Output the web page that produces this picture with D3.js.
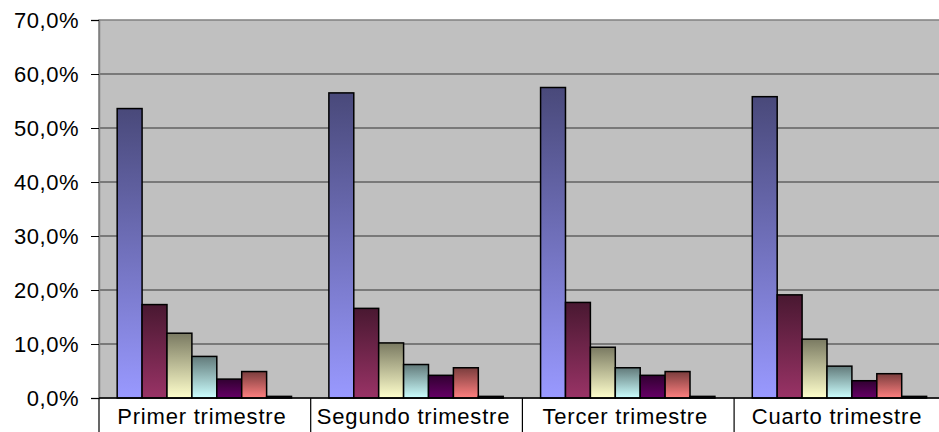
<!DOCTYPE html>
<html>
<head>
<meta charset="utf-8">
<script src="https://cdn.jsdelivr.net/npm/d3@7"></script>
<style>
  body { margin: 0; background: #fff; }
  svg text { font-family: "Liberation Sans", Arial, sans-serif; fill: #000; }
</style>
</head>
<body>
<div id="chart"></div>
<script>
// trimestres
var categories = ["Primer trimestre", "Segundo trimestre", "Tercer trimestre", "Cuarto trimestre"];

// one array per series, values in %
var serie1 = [53.6, 56.5, 57.5, 55.8];
var serie2 = [17.3, 16.6, 17.7, 19.1];
var serie3 = [12.0, 10.2, 9.4, 10.9];
var serie4 = [7.7, 6.2, 5.6, 5.9];
var serie5 = [3.5, 4.2, 4.2, 3.2];
var serie6 = [4.9, 5.6, 4.9, 4.5];
var serie7 = [0.3, 0.3, 0.3, 0.3];

var yTicks = [0, 10, 20, 30, 40, 50, 60, 70];

var series = [serie1, serie2, serie3, serie4, serie5, serie6, serie7];
var colors = ["#9999ff", "#993366", "#ffffcc", "#ccffff", "#660066", "#ff8080", "#0066cc"];

var W = 939, H = 432;
var mLeft = 99, mTop = 20, mBottom = 398;
var catW = 211.7;

var svg = d3.select("#chart").append("svg")
    .attr("width", W)
    .attr("height", H);

var x = d3.scaleBand()
    .domain(categories)
    .range([mLeft, mLeft + catW * categories.length])
    .padding(0);

var y = d3.scaleLinear().domain([0, 70]).range([mBottom, mTop]);

// 7 bars + 150% gap inside each category
var inner = d3.scaleBand()
    .domain(d3.range(series.length))
    .range([0, x.bandwidth()])
    .paddingInner(0)
    .paddingOuter(0.75);

// gradients, dark top -> colour bottom
var defs = svg.append("defs");
colors.forEach(function (c, i) {
    var base = d3.rgb(c);
    var dark = d3.rgb(base.r * 0.48, base.g * 0.48, base.b * 0.48);
    var g = defs.append("linearGradient")
        .attr("id", "grad" + i)
        .attr("x1", 0).attr("y1", 0).attr("x2", 0).attr("y2", 1);
    g.append("stop").attr("offset", "0%").attr("stop-color", dark.formatHex());
    g.append("stop").attr("offset", "100%").attr("stop-color", c);
});

// plot area
svg.append("rect")
    .attr("x", mLeft)
    .attr("y", mTop)
    .attr("width", catW * categories.length)
    .attr("height", mBottom - mTop)
    .attr("fill", "#c0c0c0")
    .attr("stroke", "#808080")
    .attr("stroke-width", 1.5);

// gridlines
svg.selectAll(".grid")
    .data(yTicks.filter(function (d) { return d > 0 && d < 70; }))
    .enter().append("line")
    .attr("class", "grid")
    .attr("x1", mLeft).attr("x2", W)
    .attr("y1", function (d) { return y(d); })
    .attr("y2", function (d) { return y(d); })
    .attr("stroke", "#333")
    .attr("stroke-width", 1);

// bars
categories.forEach(function (cat, ci) {
    series.forEach(function (s, si) {
        svg.append("rect")
            .attr("x", x(cat) + inner(si) - 0.5)
            .attr("y", y(s[ci]))
            .attr("width", inner.bandwidth())
            .attr("height", mBottom - y(s[ci]))
            .attr("fill", "url(#grad" + si + ")")
            .attr("stroke", "#000")
            .attr("stroke-width", 1.5);
    });
});

// y axis
var yAxis = d3.axisLeft(y)
    .tickValues(yTicks)
    .tickSize(8)
    .tickPadding(12)
    .tickFormat(function (d) { return d3.format(".1f")(d).replace(".", ",") + "%"; });

var ya = svg.append("g")
    .attr("transform", "translate(" + mLeft + ",0)")
    .call(yAxis);
ya.select(".domain").attr("stroke", "#808080").attr("stroke-width", 1.5);
ya.selectAll(".tick line").attr("stroke", "#000");
ya.selectAll("text")
    .style("font-size", "22px")
    .style("letter-spacing", "0.5px")
    .attr("fill", "#000")
    .attr("dy", "0.36em");

// x axis line + category separators
svg.append("line")
    .attr("x1", mLeft).attr("x2", W)
    .attr("y1", mBottom).attr("y2", mBottom)
    .attr("stroke", "#000").attr("stroke-width", 1.5);

svg.selectAll(".sep")
    .data(categories)
    .enter().append("line")
    .attr("class", "sep")
    .attr("x1", function (d) { return x(d); })
    .attr("x2", function (d) { return x(d); })
    .attr("y1", mBottom).attr("y2", H)
    .attr("stroke", "#000").attr("stroke-width", 1.2);

svg.selectAll(".cat")
    .data(categories)
    .enter().append("text")
    .attr("class", "cat")
    .attr("x", function (d) { return x(d) + x.bandwidth() / 2 - 3; })
    .attr("y", 424)
    .attr("text-anchor", "middle")
    .style("font-size", "22px")
    .style("letter-spacing", "0.8px")
    .text(function (d) { return d; });
</script>
</body>
</html>
